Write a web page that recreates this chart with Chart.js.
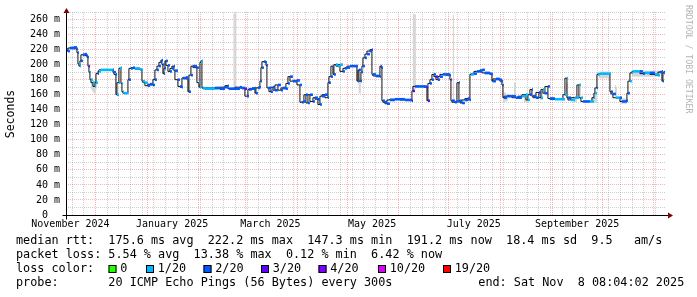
<!DOCTYPE html>
<html lang="en">
<head>
<meta charset="UTF-8">
<title>Smokeping RTT</title>
<style>
  body { margin: 0; background: #fff; }
  canvas { display: block; }
</style>
</head>
<body>
<canvas id="rtt" width="697" height="297"></canvas>
<script src="https://cdn.jsdelivr.net/npm/chart.js"></script>
<script>
// x = days since 2024-11-01, graph shows 360 days ending 2025-11-08 08:04
const startDay = 12.34;
const endDay = 372.34;

// median rtt (ms)
const medianDays = [
  12.3, 12.9, 13.5, 14.7, 17.1, 18.9, 19.5, 20.1, 20.7, 21.3, 22.5, 23.7, 24.9, 25.5, 26.1, 26.7,
  27.3, 28.5, 29.7, 30.3, 31.5, 32.1, 33.3, 40.5, 41.1, 42.3, 42.9, 44.1, 44.7, 45.3, 45.9, 46.5,
  47.1, 48.9, 49.5, 50.1, 51.3, 52.5, 53.7, 56.7, 57.9, 58.5, 59.7, 61.5, 62.7, 64.5, 65.7, 66.9,
  68.1, 69.3, 69.9, 70.5, 71.1, 71.7, 72.3, 73.5, 74.7, 75.9, 77.1, 77.7, 79.5, 80.7, 81.9, 82.5,
  84.3, 85.5, 86.1, 87.3, 88.5, 90.9, 92.1, 92.7, 93.3, 93.9, 94.5, 95.7, 101.7, 104.7, 107.7, 109.5,
  110.1, 113.7, 116.7, 117.9, 119.7, 120.9, 121.5, 122.1, 123.9, 125.7, 126.3, 127.5, 128.7, 129.3, 129.9, 131.1,
  132.3, 132.9, 133.5, 134.1, 135.3, 136.5, 137.7, 139.5, 141.3, 142.5, 144.3, 145.5, 146.7, 148.5, 150.9, 152.7,
  153.9, 155.1, 156.3, 157.5, 158.7, 160.5, 161.7, 163.5, 164.7, 165.9, 167.7, 169.5, 170.1, 171.3, 172.5, 173.1,
  174.3, 175.5, 176.7, 178.5, 179.7, 180.9, 182.7, 186.9, 187.5, 188.1, 189.3, 189.9, 190.5, 191.7, 192.9, 194.7,
  195.9, 196.5, 198.3, 200.7, 201.3, 201.9, 202.5, 203.7, 204.9, 206.7, 209.7, 212.7, 215.7, 218.7, 219.9, 220.5,
  221.7, 224.7, 227.1, 228.9, 229.5, 230.7, 231.9, 233.1, 234.3, 235.5, 236.7, 238.5, 240.3, 242.7, 243.3, 243.9,
  245.7, 246.9, 248.1, 248.7, 249.9, 251.7, 253.5, 254.7, 255.3, 257.1, 258.9, 260.7, 261.9, 263.7, 266.7, 267.9,
  268.5, 270.3, 272.7, 273.9, 274.5, 275.1, 276.9, 279.9, 282.3, 283.5, 285.9, 288.3, 289.5, 290.7, 291.9, 292.5,
  294.3, 296.1, 297.3, 298.5, 299.7, 301.5, 302.7, 305.7, 308.7, 310.5, 311.7, 312.9, 313.5, 315.3, 317.7, 318.9,
  320.1, 321.3, 322.5, 326.7, 327.9, 329.1, 329.7, 330.9, 331.5, 332.7, 335.7, 338.7, 339.3, 340.5, 342.3, 344.7,
  345.9, 348.3, 348.9, 349.5, 350.7, 351.9, 352.5, 355.5, 356.7, 358.5, 359.7, 362.7, 365.7, 367.5, 368.7, 369.9,
  370.5, 371.1, 371.7
];
const medianMs = [
  214, 220, 218, 222, 223, 221, 216, 201, 198, 205, 213, 214, 212, 210, 198, 190,
  180, 176, 171, 176, 188, 191, 193, 193, 190, 187, 160, 176, 195, 196, 175, 164,
  162, 162, 163, 180, 195, 196, 195, 194, 193, 178, 176, 172, 174, 173, 180, 193,
  198, 203, 206, 200, 188, 195, 205, 199, 191, 195, 198, 192, 180, 171, 170, 182,
  183, 181, 164, 186, 198, 196, 176, 170, 203, 205, 169, 168, 169, 168, 170, 172,
  168, 168, 170, 169, 168, 158, 158, 167, 168, 169, 162, 169, 170, 178, 196, 204,
  203, 199, 169, 169, 164, 170, 166, 173, 166, 169, 168, 175, 184, 178, 179, 173,
  150, 151, 160, 149, 160, 151, 156, 154, 147, 158, 160, 156, 176, 184, 198, 187,
  200, 198, 200, 191, 195, 196, 198, 198, 178, 193, 178, 190, 198, 209, 214, 218,
  220, 187, 185, 184, 198, 196, 152, 150, 148, 153, 154, 154, 153, 153, 152, 165,
  171, 171, 171, 170, 152, 175, 180, 187, 184, 180, 184, 187, 187, 186, 180, 152,
  150, 151, 176, 152, 149, 153, 155, 153, 187, 188, 191, 191, 193, 189, 188, 187,
  178, 181, 180, 178, 173, 156, 158, 158, 156, 156, 158, 160, 153, 160, 167, 158,
  156, 163, 156, 167, 162, 171, 155, 154, 154, 154, 160, 182, 156, 153, 156, 156,
  173, 156, 151, 151, 151, 156, 162, 169, 187, 188, 188, 188, 164, 161, 156, 156,
  151, 151, 152, 162, 178, 189, 191, 191, 191, 188, 189, 189, 187, 186, 190, 191,
  178, 189, 191
];

// lost pings (of 20) from the given day on
const lossFrom = [
  12.3, 20.1, 21.3, 26.1, 26.7, 30.9, 32.1, 35.1, 42.9, 50.1, 53.1, 61.5, 92.1, 96.3, 119.1, 120.3,
  174.3, 177.9, 219.9, 221.1, 228.9, 230.1, 234.3, 235.5, 255.3, 257.1, 285.9, 290.7, 296.7, 299.7, 303.9, 313.5,
  314.7, 321.9, 323.7, 330.9, 331.5, 339.3, 342.3, 344.7, 350.7, 356.7, 359.7, 362.7, 365.7, 368.7
];
const lossPings = [
  2, 1, 2, 3, 1, 2, 1, 2, 1, 2, 1, 2, 1, 2, 3, 2,
  1, 2, 3, 2, 3, 2, 3, 2, 1, 2, 1, 2, 1, 2, 1, 2,
  1, 2, 1, 2, 1, 2, 1, 2, 1, 2, 1, 2, 1, 2
];

// smoke (spread of the pings), null separates patches
const smokeDays = [
  27.3, 29.7, 30.9, 31.0, 112.7, 114.7, 114.8, 187.8, 189.3, 189.4, 220.3, 222.3, 222.4, 244.3, 245.2, 245.3,
  274.5, 277.5, 277.6, 281.1, 282.3, 282.4, 287.1, 289.5, 289.6, 296.7, 298.5, 298.6, 312.3, 313.5, 313.6,
  317.1, 318.9, 319.0, 320.7, 321.3, 321.4, 327.9, 330.9, 331.0, 331.8, 338.7, 338.8, 341.7, 342.9, 343.0,
  344.7, 348.9, 349.0, 351.9, 368.7
];
const smokeLo = [
  168, 160, 170, null, 168, 168, null, 162, 162, null, 165, 168, null, 150, 150, null,
  150, 152, null, 160, 158, null, 150, 150, null, 153, 153, null, 158, 153, null,
  150, 150, null, 158, 158, null, 149, 149, null, 182, 182, null, 158, 156, null,
  148, 148, null, 184, 184
];
const smokeHi = [
  182, 178, 184, null, 268, 268, null, 182, 182, null, 267, 267, null, 266, 266, null,
  165, 160, null, 176, 176, null, 158, 158, null, 165, 165, null, 176, 176, null,
  156, 156, null, 175, 175, null, 156, 165, null, 191, 191, null, 174, 170, null,
  155, 155, null, 192, 192
];

// time grid: month starts (red) and Sundays (grey), labels mid-month
const monthStarts = [30, 61, 92, 120, 151, 181, 212, 242, 273, 304, 334, 365];
const firstSunday = 16;
const labelDays = [15, 76, 135, 196, 257, 319];
const labelText = ['November 2024', 'January 2025', 'March 2025', 'May 2025', 'July 2025', 'September 2025'];

const lossPalette = { 0: '#26ff00', 1: '#00b8ff', 2: '#0059ff', 3: '#5e00ff', 4: '#7e00ff', 10: '#dd00ff', 19: '#ff0000' };
const lossLegend = [0, 1, 2, 3, 4, 10, 19];

function lossColor(day) {
  let p = lossPings[0];
  for (let i = 0; i < lossFrom.length; i++) {
    if (day >= lossFrom[i]) p = lossPings[i];
  }
  return lossPalette[p];
}

const MONO = '"DejaVu Sans Mono", monospace';
const GRID_GREY = 'rgba(120,120,120,0.36)';
const GRID_RED = 'rgba(255,0,0,0.30)';

const medianPts = medianDays.map((d, i) => ({ x: d, y: medianMs[i] }));
// loss-coloured overlay: only the flat part of each sample, gaps between them
const colourPts = [];
for (let i = 0; i < medianDays.length - 1; i++) {
  colourPts.push({ x: medianDays[i], y: medianMs[i] });
  colourPts.push({ x: medianDays[i + 1], y: medianMs[i] });
  colourPts.push({ x: medianDays[i + 1], y: null });
}

// rrdtool-like decorations: axes with arrows, time labels, title, legend
const rrdDecor = {
  id: 'rrdDecor',
  afterDraw(chart) {
    const { ctx, chartArea: a, scales: { x } } = chart;
    const ox = Math.round(a.left) + 0.5;
    const oy = Math.round(a.bottom) + 0.5;
    ctx.save();

    ctx.strokeStyle = '#000';
    ctx.lineWidth = 1;
    ctx.beginPath();
    ctx.moveTo(ox - 4, oy); ctx.lineTo(a.right + 3, oy);
    ctx.moveTo(ox, oy + 4); ctx.lineTo(ox, a.top - 2);
    ctx.stroke();

    ctx.fillStyle = '#800000';
    ctx.beginPath();
    ctx.moveTo(ox - 3, a.top + 1); ctx.lineTo(ox + 3, a.top + 1); ctx.lineTo(ox, a.top - 4);
    ctx.closePath(); ctx.fill();
    ctx.beginPath();
    ctx.moveTo(a.right + 2, oy - 3); ctx.lineTo(a.right + 2, oy + 3); ctx.lineTo(a.right + 7, oy);
    ctx.closePath(); ctx.fill();

    ctx.fillStyle = '#000';
    ctx.font = '10px ' + MONO;
    ctx.textAlign = 'center';
    ctx.textBaseline = 'middle';
    labelDays.forEach((d, i) => ctx.fillText(labelText[i], x.getPixelForValue(d), 224.5));

    ctx.font = '11.5px ' + MONO;
    ctx.save();
    ctx.translate(11.5, 114);
    ctx.rotate(-Math.PI / 2);
    ctx.fillText('Seconds', 0, 0);
    ctx.restore();

    ctx.fillStyle = '#b4b4b4';
    ctx.font = '8.2px ' + MONO;
    ctx.textAlign = 'left';
    ctx.save();
    ctx.translate(688.5, 5);
    ctx.rotate(Math.PI / 2);
    ctx.fillText('RRDTOOL / TOBI OETIKER', 0, 0);
    ctx.restore();

    ctx.fillStyle = '#000';
    ctx.font = '11.8px ' + MONO;
    ctx.fillText('median rtt:  175.6 ms avg  222.2 ms max  147.3 ms min  191.2 ms now  18.4 ms sd  9.5   am/s', 16, 240.5);
    ctx.fillText('packet loss: 5.54 % avg  13.38 % max  0.12 % min  6.42 % now', 16, 255);
    ctx.fillText('loss color:', 16, 269.3);
    const boxX = [108.5, 146, 203.5, 261, 318.5, 378, 443];
    lossLegend.forEach((p, i) => {
      ctx.fillStyle = lossPalette[p];
      ctx.fillRect(boxX[i], 265, 8, 8);
      ctx.strokeStyle = '#000';
      ctx.strokeRect(boxX[i] + 0.5, 265.5, 7, 7);
      ctx.fillStyle = '#000';
      ctx.fillText(p === 0 ? '0' : p + '/20', boxX[i] + 11.7, 269.3);
    });
    ctx.fillText('probe:       20 ICMP Echo Pings (56 Bytes) every 300s', 16, 283.3);
    ctx.fillText('end: Sat Nov  8 08:04:02 2025', 478.3, 283.3);
    ctx.restore();
  }
};

new Chart(document.getElementById('rtt'), {
  type: 'line',
  data: {
    datasets: [
      {
        data: colourPts,
        borderWidth: 2.6,
        pointRadius: 0,
        borderCapStyle: 'butt',
        spanGaps: false,
        segment: {
          borderColor: c => lossColor(colourPts[c.p0DataIndex].x)
        },
        order: 0
      },
      {
        data: medianPts,
        borderColor: '#111',
        borderWidth: 1,
        pointRadius: 0,
        stepped: 'after',
        order: 1
      },
      {
        data: smokeDays.map((d, i) => ({ x: d, y: smokeHi[i] })),
        borderWidth: 0,
        borderColor: 'rgba(0,0,0,0)',
        pointRadius: 0,
        fill: false,
        spanGaps: false,
        order: 3
      },
      {
        data: smokeDays.map((d, i) => ({ x: d, y: smokeLo[i] })),
        borderWidth: 0,
        borderColor: 'rgba(0,0,0,0)',
        backgroundColor: '#d6d6d6',
        pointRadius: 0,
        fill: '-1',
        spanGaps: false,
        order: 2
      }
    ]
  },
  options: {
    responsive: false,
    devicePixelRatio: 1,
    animation: false,
    events: [],
    layout: { padding: { left: 0, right: 31, top: 12, bottom: 82 } },
    plugins: { legend: { display: false }, tooltip: { enabled: false } },
    scales: {
      x: {
        type: 'linear',
        min: startDay,
        max: endDay,
        afterFit: s => { s.height = 0; },
        afterBuildTicks: s => {
          const vals = new Set(monthStarts);
          for (let d = firstSunday; d < endDay; d += 7) vals.add(d);
          s.ticks = [...vals].sort((p, q) => p - q).map(v => ({ value: v, major: monthStarts.includes(v) }));
        },
        ticks: { display: false },
        grid: {
          drawTicks: false,
          color: c => (c.tick && c.tick.major) ? GRID_RED : GRID_GREY
        },
        border: { display: false, dash: [1, 1] }
      },
      y: {
        min: 0,
        max: 270,
        afterFit: s => { s.width = 66; },
        ticks: {
          stepSize: 10,
          autoSkip: false,
          padding: 6,
          color: '#000',
          font: { family: 'DejaVu Sans Mono', size: 10 },
          callback: v => v % 20 ? '' : (v === 0 ? '0  ' : v + ' m')
        },
        grid: {
          drawTicks: false,
          color: c => (c.tick && c.tick.value % 20 === 0) ? GRID_RED : GRID_GREY
        },
        border: { display: false, dash: [1, 1] }
      }
    }
  },
  plugins: [rrdDecor]
});
</script>
</body>
</html>
